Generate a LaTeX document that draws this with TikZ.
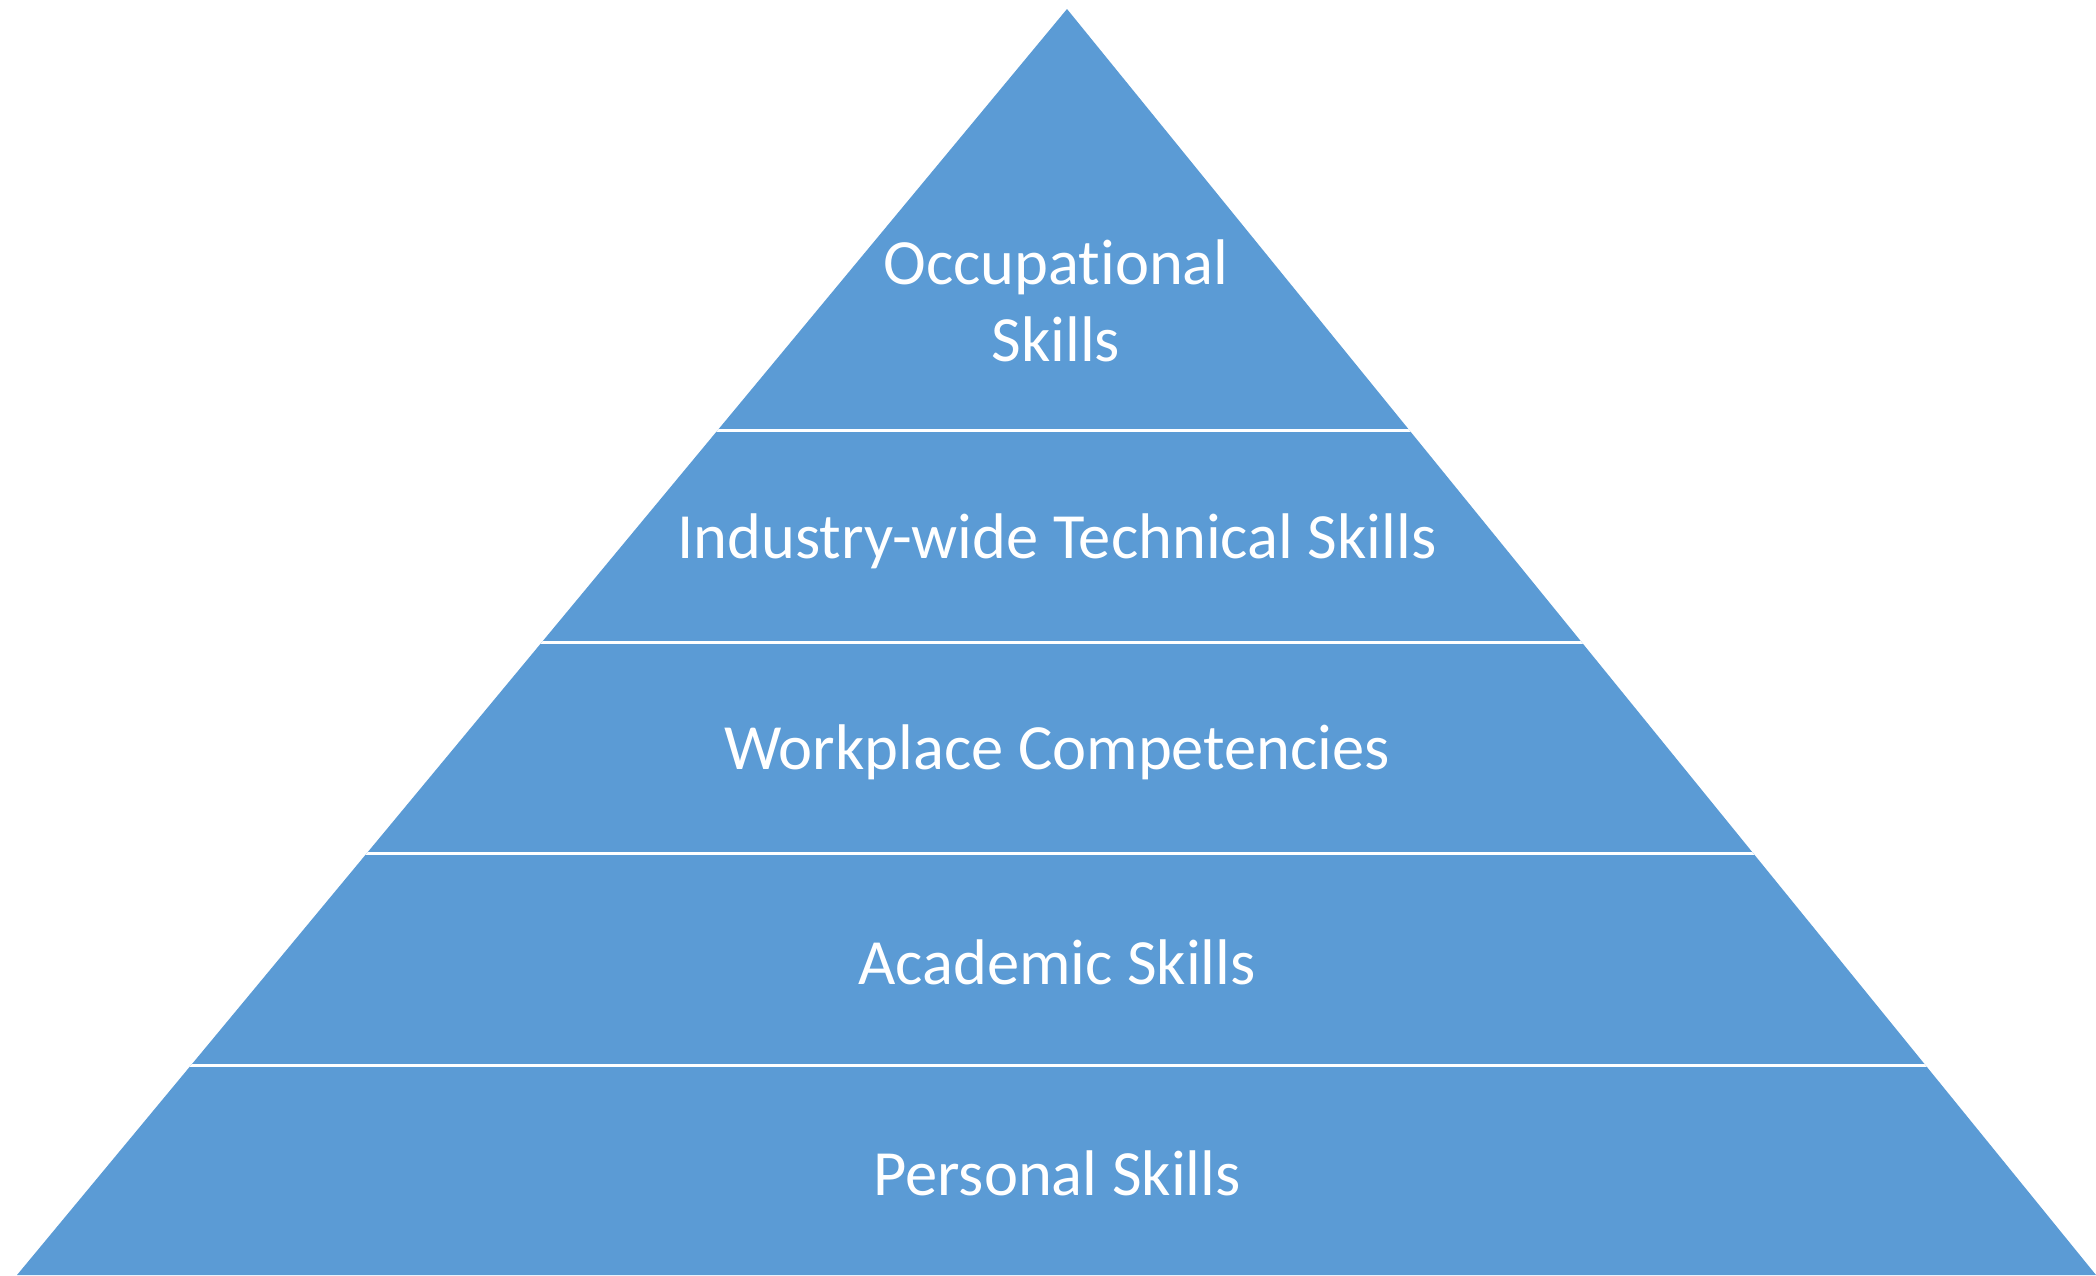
\documentclass[tikz,border=0pt]{standalone}
\usepackage{fontspec}
\setmainfont{Carlito}[Ligatures=NoCommon]
\usetikzlibrary{positioning}
\definecolor{layerblue}{HTML}{5B9BD5}

\begin{document}
\begin{tikzpicture}[x=1pt, y=-1pt,
	tier/.style = {text = white, align = center, font = \fontsize{64.5}{77}\selectfont}]
	\useasboundingbox (0,0) rectangle (2096,1275);
	\fill[layerblue] (1067,9) -- (17,1275) -- (2096,1275) -- cycle;
	\begin{scope}
		\clip (1067,9) -- (17,1275) -- (2096,1275) -- cycle;
		\foreach \y in {430,642,853,1065}
			\draw[white, line width = 3pt] (0,\y) -- (2096,\y);
	\end{scope}
				\node[tier] (occ) at (1056,301) {Occupational\\Skills};
				\node[tier] (ind) at (1057,541) {Industry-wide Technical Skills};
				\node[tier] (wrk) at (1057,752) {Workplace Competencies};
				\node[tier] (aca) at (1057,962) {Academic Skills};
				\node[tier] (per) at (1057,1173) {Personal Skills};
\end{tikzpicture}
\end{document}
